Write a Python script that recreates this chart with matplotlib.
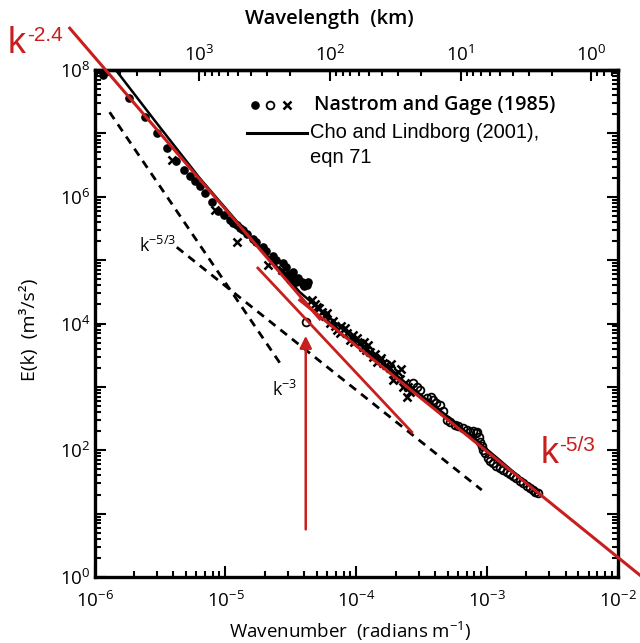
import numpy as np
import matplotlib
matplotlib.use('Agg')
import matplotlib.pyplot as plt
from matplotlib.ticker import LogLocator, FuncFormatter, NullFormatter

# ---------------- data ----------------
filled_k = [1.15e-6, 1.82e-6, 2.41e-6, 2.98e-6, 3.56e-6, 4.17e-6, 4.80e-6, 5.33e-6,
            5.82e-6, 6.36e-6, 6.94e-6, 7.85e-6, 8.73e-6, 9.70e-6, 1.08e-5, 1.15e-5,
            1.22e-5, 1.29e-5, 1.36e-5, 1.45e-5, 1.62e-5, 1.72e-5, 1.93e-5, 2.05e-5,
            2.30e-5, 2.45e-5, 2.74e-5, 2.90e-5, 3.05e-5, 3.27e-5,
            3.00e-5, 3.10e-5, 3.30e-5, 3.44e-5, 3.57e-5, 3.60e-5, 3.83e-5, 3.90e-5,
            3.96e-5, 4.18e-5, 4.20e-5, 4.30e-5]
filled_E = [8.28e7, 3.59e7, 1.80e7, 1.01e7, 5.84e6, 3.65e6, 2.63e6, 2.11e6,
            1.76e6, 1.47e6, 1.14e6, 8.22e5, 5.93e5, 5.13e5, 4.27e5, 3.90e5,
            3.57e5, 3.25e5, 2.97e5, 2.60e5, 2.14e5, 1.90e5, 1.60e5, 1.40e5,
            1.16e5, 1.02e5, 8.97e4, 7.80e4, 6.00e4, 6.47e4,
            5.50e4, 4.84e4, 5.00e4, 4.50e4, 5.20e4, 4.70e4, 4.50e4, 4.20e4,
            3.89e4, 4.34e4, 4.00e4, 4.60e4]

cross_k = [3.88e-6, 8.28e-6, 1.22e-5, 2.10e-5, 2.69e-5, 4.57e-5, 4.80e-5, 4.99e-5,
           5.20e-5, 5.45e-5, 5.80e-5, 6.00e-5, 6.27e-5, 6.60e-5, 6.90e-5, 7.09e-5,
           7.48e-5, 7.70e-5, 8.17e-5, 8.50e-5, 8.91e-5, 9.40e-5, 9.70e-5, 1.01e-4,
           1.06e-4, 1.12e-4, 1.15e-4, 1.18e-4, 1.22e-4, 1.28e-4, 1.34e-4, 1.40e-4,
           1.45e-4, 1.51e-4, 1.55e-4, 1.60e-4, 1.70e-4, 1.80e-4, 1.85e-4, 1.90e-4,
           1.95e-4, 2.08e-4, 2.15e-4, 2.20e-4, 2.27e-4, 2.35e-4, 2.43e-4, 2.50e-4, 2.57e-4]
cross_E = [3.78e6, 6.15e5, 1.92e5, 8.34e4, 6.95e4, 2.34e4, 2.00e4, 1.81e4,
           1.75e4, 1.51e4, 1.30e4, 1.45e4, 1.01e4, 1.10e4, 9.00e3, 7.87e3,
           7.06e3, 9.20e3, 8.46e3, 7.00e3, 5.47e3, 6.60e3, 5.20e3, 5.89e3,
           5.00e3, 4.24e3, 5.10e3, 3.80e3, 4.56e3, 3.60e3, 2.95e3, 3.30e3,
           2.50e3, 2.65e3, 2.90e3, 2.37e3, 2.20e3, 1.98e3, 2.30e3, 1.28e3,
           1.60e3, 1.71e3, 1.35e3, 1.90e3, 993, 1.15e3, 690, 1.00e3, 828]

open_k = [4.11e-5, 2.70e-4, 2.90e-4, 3.06e-4, 3.46e-4, 3.70e-4, 3.85e-4, 4.10e-4,
          4.35e-4, 4.60e-4, 4.92e-4, 5.20e-4, 5.66e-4, 6.00e-4, 6.52e-4, 7.00e-4,
          7.38e-4, 7.80e-4, 8.20e-4, 8.40e-4, 8.65e-4, 8.90e-4, 9.12e-4, 9.40e-4,
          9.62e-4, 1.01e-3, 1.05e-3, 1.11e-3, 1.18e-3, 1.25e-3, 1.33e-3, 1.42e-3,
          1.50e-3, 1.57e-3, 1.68e-3, 1.78e-3, 1.90e-3, 2.01e-3, 2.12e-3, 2.24e-3,
          2.34e-3, 2.44e-3]
open_E = [1.05e4, 1.15e3, 1.00e3, 891, 666, 700, 619, 560,
          516, 420, 299, 280, 250, 240, 224, 210,
          194, 200, 187, 195, 162, 135, 116, 100,
          90.3, 75.3, 68, 62.9, 57, 52.4, 49, 45.3,
          42, 39.2, 36, 32.7, 30, 27.3, 25.5, 23.6,
          22.3, 21.1]

cho_k = [1.45e-6, 2.98e-6, 6.36e-6, 1.53e-5, 3.70e-5, 8.91e-5, 2.15e-4, 5.19e-4, 1.25e-3, 2.44e-3]
cho_E = [1.0e8, 1.45e7, 1.96e6, 2.39e5, 3.13e4, 6.56e3, 1.38e3, 322, 70, 21.5]

dash3_k = [1.30e-6, 2.74e-5]
dash3_E = [2.16e7, 2.05e3]
dash53_k = [4.24e-6, 9.12e-4]
dash53_E = [1.60e5, 23.6]

red24_k = [6.44e-7, 5.26e-5]
red24_E = [4.57e8, 1.18e4]
red53_k = [3.70e-5, 1.47e-2]
red53_E = [2.34e4, 1.08]
redshort_k = [1.77e-5, 2.66e-4]
redshort_E = [7.5e4, 194]

arrow_k = 4.11e-5
arrow_E = [5.1, 7060]

RED = '#c81e1e'

plt.rcParams['font.family'] = ['Open Sans', 'DejaVu Sans']
plt.rcParams['mathtext.fontset'] = 'custom'
plt.rcParams['mathtext.rm'] = 'Open Sans'
plt.rcParams['mathtext.it'] = 'Open Sans'

W, H = 640, 643
fig = plt.figure(figsize=(6.4, 6.43), dpi=100)
ax = fig.add_axes([0.148, 0.1026, 0.8172, 0.7885])
ax.set_xscale('log')
ax.set_yscale('log')
ax.set_xlim(1e-6, 1e-2)
ax.set_ylim(1e0, 1e8)

# dashed reference lines
ax.plot(dash3_k, dash3_E, color='black', lw=2.0, ls=(0, (3.0, 2.3)))
ax.plot(dash53_k, dash53_E, color='black', lw=2.0, ls=(0, (3.0, 2.3)))

# model line
ax.plot(cho_k, cho_E, color='black', lw=1.8)

# data
ax.plot(filled_k, filled_E, 'o', ms=5.2, color='black', mec='black')
ax.plot(cross_k, cross_E, 'x', ms=6, color='black', mew=1.8)
ax.plot(open_k, open_E, 'o', ms=5.6, mfc='none', mec='black', mew=1.3)

# red fit lines
ax.plot(red24_k, red24_E, color=RED, lw=2.2, clip_on=False, zorder=5)
ax.plot(red53_k, red53_E, color=RED, lw=2.2, clip_on=False, zorder=5)
ax.plot(redshort_k, redshort_E, color=RED, lw=2.0, zorder=5)
ax.annotate('', xy=(arrow_k, arrow_E[1]), xytext=(arrow_k, arrow_E[0]),
            arrowprops=dict(arrowstyle='-|>', color=RED, lw=1.8, mutation_scale=18),
            zorder=6)

# labels on curves
ax.text(3.0e-6, 1.7e5, r'k$^{-5/3}$', fontsize=13, ha='center', va='center')
ax.text(2.85e-5, 9.0e2, r'k$^{-3}$', fontsize=13, ha='center', va='center')

RF = ['Liberation Sans', 'DejaVu Sans']
fig.text(8 / W, 1 - 53 / H, 'k', fontsize=26, color=RED, ha='left', va='baseline', family=RF)
fig.text(27 / W, 1 - 41 / H, '-2.4', fontsize=15, color=RED, ha='left', va='baseline', family=RF)
fig.text(541 / W, 1 - 463 / H, 'k', fontsize=26, color=RED, ha='left', va='baseline', family=RF)
fig.text(559 / W, 1 - 451 / H, '-5/3', fontsize=15, color=RED, ha='left', va='baseline', family=RF)

# legend (manual)
ax.plot([0.306], [0.931], 'o', ms=5.2, color='black', transform=ax.transAxes)
ax.plot([0.335], [0.931], 'o', ms=5.6, mfc='none', mec='black', mew=1.3, transform=ax.transAxes)
ax.plot([0.367], [0.931], 'x', ms=6, color='black', mew=1.8, transform=ax.transAxes)
ax.text(0.420, 0.931, 'Nastrom and Gage (1985)', transform=ax.transAxes, fontsize=14.2,
        fontweight='semibold', va='center', ha='left')
ax.plot([0.291, 0.405], [0.876, 0.876], color='black', lw=2.2, transform=ax.transAxes)
ax.text(0.412, 0.876, 'Cho and Lindborg (2001),', transform=ax.transAxes, fontsize=14.5,
        va='center', ha='left', family=RF)
ax.text(0.412, 0.828, 'eqn 71', transform=ax.transAxes, fontsize=14.5,
        va='center', ha='left', family=RF)

# ticks
def pow_fmt(v, pos):
    if v <= 0:
        return ''
    e = int(round(np.log10(v)))
    if abs(np.log10(v) - e) > 1e-6:
        return ''
    return r'$\mathregular{10^{%d}}$' % e

def pow_fmt_even(v, pos):
    if v <= 0:
        return ''
    e = int(round(np.log10(v)))
    return pow_fmt(v, pos) if e % 2 == 0 else ''

ax.xaxis.set_major_locator(LogLocator(base=10, numticks=20))
ax.xaxis.set_minor_locator(LogLocator(base=10, subs=np.arange(2, 10), numticks=20))
ax.xaxis.set_major_formatter(FuncFormatter(pow_fmt))
ax.xaxis.set_minor_formatter(NullFormatter())
ax.yaxis.set_major_locator(LogLocator(base=10, numticks=20))
ax.yaxis.set_minor_locator(LogLocator(base=10, subs=np.arange(2, 10), numticks=20))
ax.yaxis.set_major_formatter(FuncFormatter(pow_fmt_even))
ax.yaxis.set_minor_formatter(NullFormatter())
ax.tick_params(which='both', direction='in', right=True, labelsize=13.5, width=1.5)
ax.tick_params(which='major', length=8)
ax.tick_params(which='minor', length=4.5)
ax.tick_params(axis='x', pad=10)
ax.tick_params(axis='y', pad=3)
for s in ax.spines.values():
    s.set_linewidth(2.4)

def k2lam(k):
    k = np.asarray(k, dtype=float)
    with np.errstate(divide='ignore'):
        return 2 * np.pi / k / 1000.0

sec = ax.secondary_xaxis('top', functions=(k2lam, k2lam))
sec.xaxis.set_major_locator(LogLocator(base=10, numticks=20))
sec.xaxis.set_minor_locator(LogLocator(base=10, subs=np.arange(2, 10), numticks=20))
sec.xaxis.set_major_formatter(FuncFormatter(pow_fmt))
sec.xaxis.set_minor_formatter(NullFormatter())
sec.tick_params(which='both', direction='in', labelsize=13.5, width=1.5)
sec.tick_params(which='major', length=8)
sec.tick_params(which='minor', length=4.5)
sec.spines['top'].set_linewidth(2.4)

# axis titles
fig.text(329 / W, 1 - 19 / H, 'Wavelength  (km)', fontsize=14.5, fontweight='semibold',
         ha='center', va='center')
fig.text(350 / W, 1 - 631 / H, r'Wavenumber  (radians m$^{-1}$)', fontsize=13.5,
         ha='center', va='center')
fig.text(30 / W, 1 - 330 / H, 'E(k)  (m³/s²)', fontsize=14, rotation=90,
         ha='center', va='center')

fig.savefig('out.png', dpi=100)
